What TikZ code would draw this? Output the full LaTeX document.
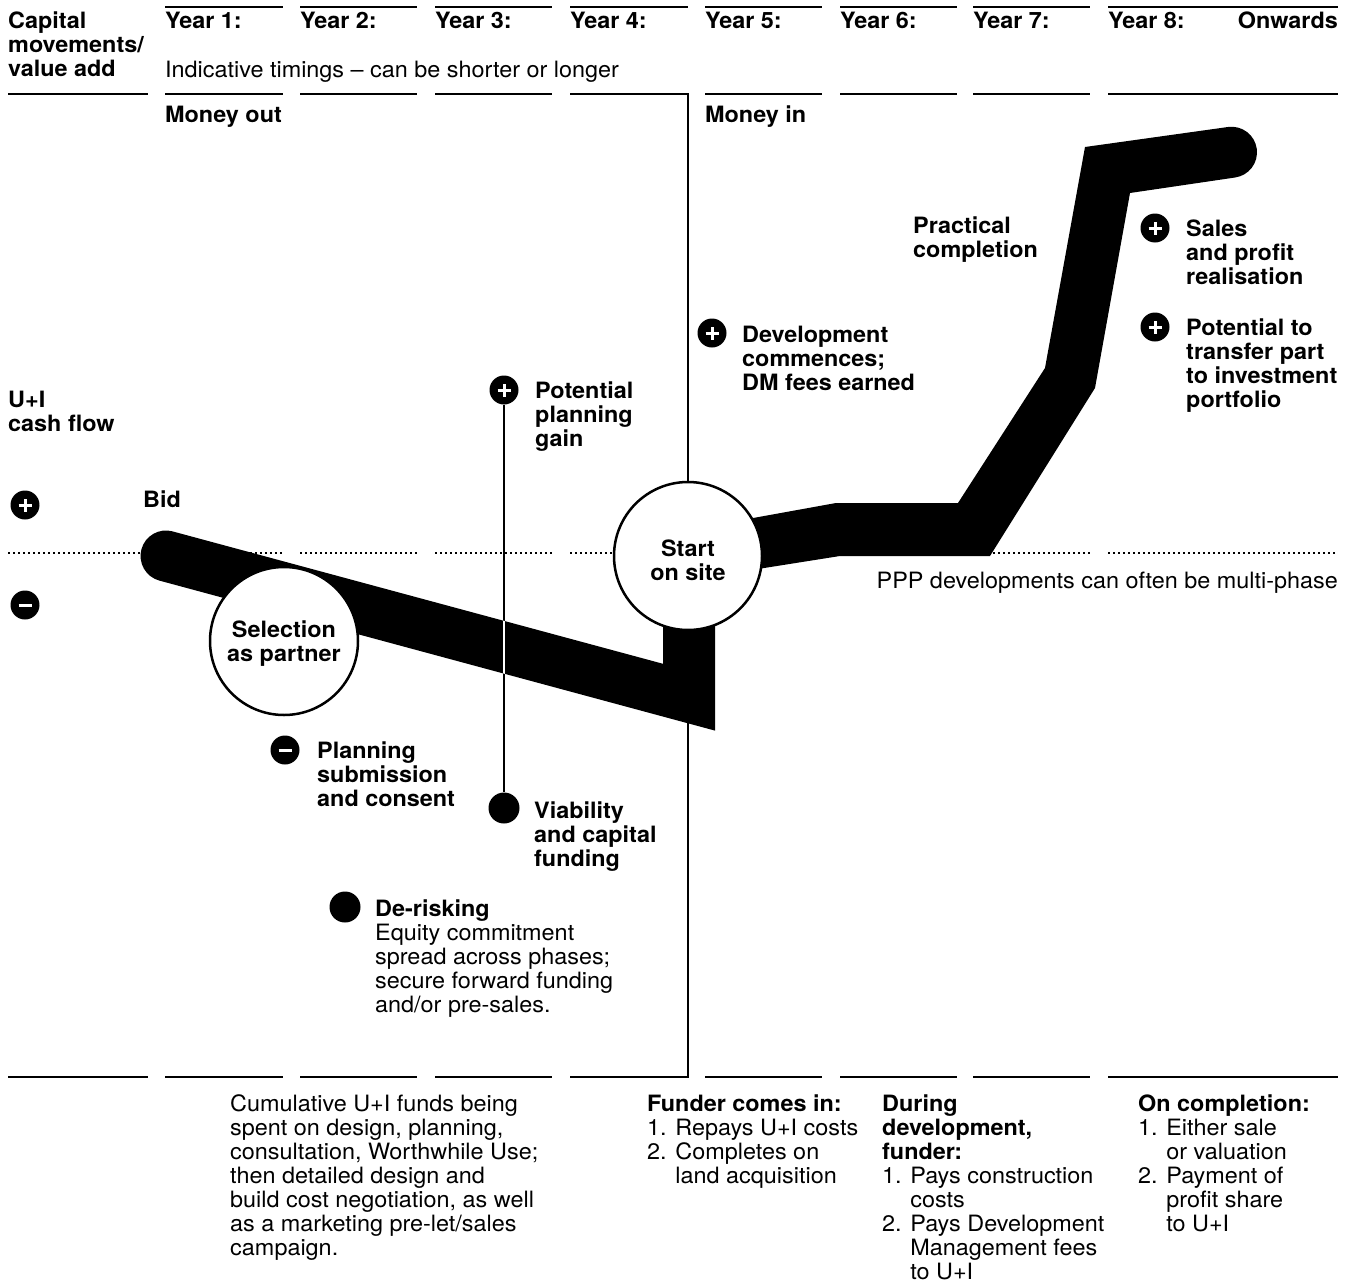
\documentclass[tikz,border=0pt]{standalone}
\usepackage{fontspec}
\setmainfont[FakeStretch=1.04]{TeX Gyre Heros}
\usetikzlibrary{calc}
\newcommand\fsz{\fontsize{22.5}{24}\selectfont}
\newcommand\mystrut{\rule{0pt}{17pt}}
\newcommand\leftbandpath{(172.6,531.4) -- (663,663.8) -- (663,600) -- (715,600) -- (715,730.6) -- (159.4,580.6) arc[start angle=105.1, end angle=285.1, radius=25.5] -- cycle}
\newcommand\plusmark[1]{\draw[mk] ([xshift=-6.5pt]#1.center) -- ([xshift=6.5pt]#1.center) ([yshift=-6.5pt]#1.center) -- ([yshift=6.5pt]#1.center);}
\newcommand\minusmark[1]{\draw[mk] ([xshift=-6.5pt]#1.center) -- ([xshift=6.5pt]#1.center);}
\tikzset{
  hrule/.style={line width=1.4pt},
  dotline/.style={line width=1.5pt, dash pattern=on 1.5pt off 3.5pt},
  tx/.style={anchor=north west, inner sep=0pt, align=left, font=\fsz},
  tb/.style={tx, font=\fsz\bfseries},
  icon/.style={circle, fill=black, inner sep=0pt, minimum size=29pt},
  bigdot/.style={circle, fill=black, inner sep=0pt, minimum size=31pt},
  bigcirc/.style={circle, draw=black, line width=2.5pt, fill=white, minimum size=148pt, inner sep=0pt},
  mk/.style={white, line width=3pt},
}
\begin{document}
\begin{tikzpicture}[x=1pt,y=-1pt]
\useasboundingbox[fill=white] (0,0) rectangle (1353,1282);

% rules
\foreach \a/\b in {165/283,300/417,435/552,570/688,705/822,840/957,973/1090,1108/1338}
  \draw[hrule] (\a,7) -- (\b,7);
\foreach \a/\b in {8/148,165/283,300/417,435/552,705/822,840/957,973/1090,1108/1338}{
  \draw[hrule] (\a,94) -- (\b,94);
  \draw[hrule] (\a,1077) -- (\b,1077);
}
\draw[hrule] (570,94) -- (688,94) -- (688,1077) -- (570,1077);

% dotted zero line
\foreach \a/\b in {8/148,165/283,300/417,435/552,570/687,705/822,840/957,973/1090,1108/1338}
  \draw[dotline] (\a,553) -- (\b,553);

% icons and planning line
\node[icon] (pg) at (504,390) {};
\node[bigdot] (vd) at (504,808) {};
\draw[line width=2pt] (pg) -- (vd);

% bands
\fill[black] \leftbandpath;
\begin{scope}
  \clip \leftbandpath;
  \draw[white, line width=1.8pt] (pg) -- (vd);
\end{scope}
\fill[black] (720,524) -- (836,503) -- (958,503) -- (1045,368) -- (1085,147) -- (1228,127)
  arc[start angle=-97.9, end angle=82.1, radius=25.5]
  -- (1130,193) -- (1095,388) -- (990,556) -- (840,556) -- (720,575) -- cycle;

% big circles
\node[bigcirc] (sel) at (284,641) {};
\node[bigcirc] (sos) at (688,556) {};
\node[tb, anchor=north, align=center] (selt) at (284,620) {\mystrut Selection\\as partner};
\node[tb, anchor=north, align=center] (sost) at (688,539) {\mystrut Start\\on site};

% small icons
\node[icon] (ip) at (25,505) {};
\node[icon] (im) at (25,605) {};
\node[icon] (idev) at (712,333) {};
\node[icon] (isal) at (1155,228) {};
\node[icon] (ipot) at (1155,327) {};
\node[icon] (ipl) at (285,750) {};
\node[bigdot] (ider) at (345,907) {};
\plusmark{pg}
\plusmark{ip}
\minusmark{im}
\plusmark{idev}
\plusmark{isal}
\plusmark{ipot}
\minusmark{ipl}

% header texts
\node[tb] (hcap) at (8,11) {\mystrut Capital\\movements/\\value add};
\node[tb] (y1) at (165,11) {\mystrut Year 1:};
\node[tb] (y2) at (300,11) {\mystrut Year 2:};
\node[tb] (y3) at (435,11) {\mystrut Year 3:};
\node[tb] (y4) at (570,11) {\mystrut Year 4:};
\node[tb] (y5) at (705,11) {\mystrut Year 5:};
\node[tb] (y6) at (840,11) {\mystrut Year 6:};
\node[tb] (y7) at (973,11) {\mystrut Year 7:};
\node[tb] (y8) at (1108,11) {\mystrut Year 8:};
\node[tb, anchor=north east] (yon) at (1338,11) {\mystrut Onwards};
\node[tx] (ind) at (165,60) {\mystrut Indicative timings \textendash{} can be shorter or longer};
\node[tb] (mout) at (165,105) {\mystrut Money out};
\node[tb] (min) at (705,105) {\mystrut Money in};

% side labels
\node[tb] (cf) at (8,390) {\mystrut U+I\\cash flow};
\node[tb] (bid) at (143,490) {\mystrut Bid};

% event labels
\node[tb] (ppg) at (535,381) {\mystrut Potential\\planning\\gain};
\node[tb] (dev) at (742,325) {\mystrut Development\\commences;\\DM fees earned};
\node[tb] (prc) at (913,216) {\mystrut Practical\\completion};
\node[tb] (sal) at (1186,219) {\mystrut Sales\\and profit\\realisation};
\node[tb] (pot) at (1186,318) {\mystrut Potential to\\transfer part\\to investment\\portfolio};
\node[tx, anchor=north east] (ppp) at (1338,571) {\mystrut PPP developments can often be multi-phase};
\node[tb] (pls) at (317,741) {\mystrut Planning\\submission\\and consent};
\node[tb] (via) at (534,801) {\mystrut Viability\\and capital\\funding};
\node[tx] (der) at (375,899) {\mystrut\textbf{De-risking}\\Equity commitment\\spread across phases;\\secure forward funding\\and/or pre-sales.};

% bottom texts
\node[tx] (cum) at (230,1094) {\mystrut Cumulative U+I funds being\\spent on design, planning,\\consultation, Worthwhile Use;\\then detailed design and\\build cost negotiation, as well\\as a marketing pre-let/sales\\campaign.};
\node[tx] (fun) at (647,1094) {\mystrut\textbf{Funder comes in:}\\1. Repays U+I costs\\2. Completes on\\\hphantom{2. }land acquisition};
\node[tx] (dur) at (882,1094) {\mystrut\textbf{During}\\\textbf{development,}\\\textbf{funder:}\\1. Pays construction\\\hphantom{1. }costs\\2. Pays Development\\\hphantom{2. }Management fees\\\hphantom{2. }to U+I};
\node[tx] (onc) at (1138,1094) {\mystrut\textbf{On completion:}\\1. Either sale\\\hphantom{1. }or valuation\\2. Payment of\\\hphantom{2. }profit share\\\hphantom{2. }to U+I};
\end{tikzpicture}
\end{document}
